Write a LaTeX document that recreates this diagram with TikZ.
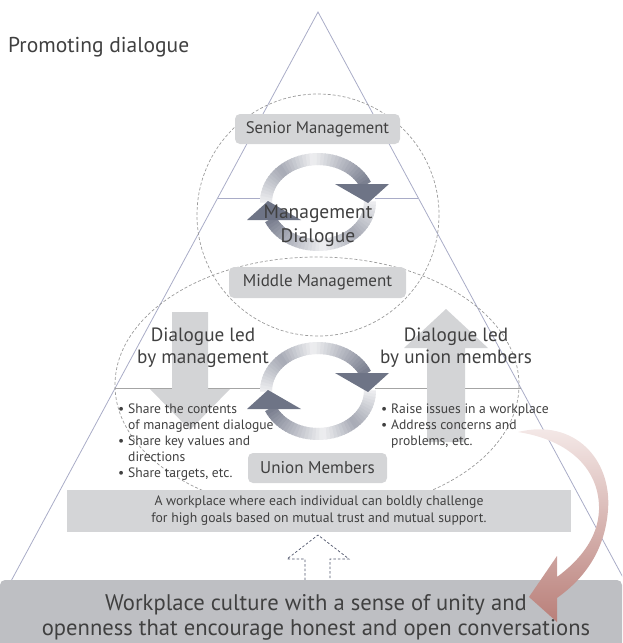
\documentclass[tikz,border=0pt]{standalone}
\usepackage{fontspec}
\setmainfont{PT Sans}
\definecolor{txt}{HTML}{404040}
\definecolor{boxg}{HTML}{D4D5D7}
\definecolor{botg}{HTML}{BEBFC3}
\definecolor{arrg}{HTML}{D3D4D6}
\definecolor{tric}{HTML}{A9ACC7}
\definecolor{sepc}{HTML}{A4A4A4}
\definecolor{dshc}{HTML}{9B9B9B}
\definecolor{cyc}{HTML}{5E6478}
\definecolor{redd}{HTML}{B97F79}
\definecolor{redl}{HTML}{F7EEED}
\definecolor{upd}{HTML}{4F556B}
\newcommand{\fsz}[1]{\fontsize{#1}{#1}\selectfont}
\newcommand{\mycycle}[2]{%
  \fill[white] (#1,#2) ellipse [x radius=57, y radius=47];
  \foreach \k in {0,...,39}{%
    \pgfmathsetmacro{\pa}{181-156*\k/40}%
    \pgfmathsetmacro{\pb}{181-156*(\k+1.4)/40}%
    \pgfmathsetmacro{\tt}{\k/39}%
    \pgfmathsetmacro{\ff}{\tt<0.3 ? 12+\tt/0.3*43 : (\tt<0.55 ? 55-(\tt-0.3)/0.25*45 : 10+(\tt-0.55)/0.45*72)}%
    \draw[line width=12pt, color=cyc!\ff!white] ({#1+52*cos(\pa)},{#2-43*sin(\pa)}) arc[start angle=-\pa, end angle=-\pb, x radius=52, y radius=43];
    \pgfmathsetmacro{\qa}{1-156*\k/40}%
    \pgfmathsetmacro{\qb}{1-156*(\k+1.4)/40}%
    \draw[line width=12pt, color=cyc!\ff!white] ({#1+52*cos(\qa)},{#2-43*sin(\qa)}) arc[start angle=-\qa, end angle=-\qb, x radius=52, y radius=43];
  }
  \fill[cyc!90] (#1+17,#2-18) -- (#1+71,#2-18) -- (#1+50,#2+1) -- cycle;
  \fill[cyc!90] (#1-17,#2+18) -- (#1-71,#2+18) -- (#1-50,#2-1) -- cycle;
}
\begin{document}
\begin{tikzpicture}[x=1pt,y=-1pt,
  trl/.style={draw=tric,line width=0.8pt},
  dshl/.style={draw=dshc,line width=0.7pt,dash pattern=on 3pt off 2pt},
  gbox/.style={fill=boxg,rounded corners=5pt,inner sep=0pt,text=txt},
  lbl/.style={text=txt,inner sep=0pt,align=center},
  bul/.style={text=txt,inner sep=0pt,anchor=base west,font=\fsz{13.6}}]
\useasboundingbox (0,0) rectangle (622,643);
\begin{scope}
\clip (0,0) rectangle (622,643);
% triangle
\coordinate (apex) at (318,12);
\coordinate (bl) at (10,583);
\coordinate (br) at (626,583);
\coordinate (s1l) at (218,198);
\coordinate (s1r) at (418,198);
\coordinate (s2l) at (115,388);
\coordinate (s2r) at (521,388);
\draw[trl] (bl) -- (apex) -- (br);
\draw[trl] (s1l) -- (s1r);
\draw[draw=sepc,line width=0.8pt] (s2l) -- (s2r);
% big gray arrows
\fill[arrg] (172,312) -- (208,312) -- (208,389) -- (230,389) -- (190,430) -- (150,389) -- (172,389) -- cycle;
\fill[arrg] (427,442) -- (465,442) -- (465,348) -- (488,348) -- (446,309) -- (404,348) -- (427,348) -- cycle;
% dashed circles
\draw[dshl] (318,215) circle [radius=121];
\draw[dshl] (317,385) ellipse [x radius=202, y radius=128];
% boxes
\node[gbox,minimum width=165,minimum height=30,font=\fsz{16.7}] (senior) at (317.5,129) {Senior Management};
\node[gbox,minimum width=177,minimum height=31,font=\fsz{17}] (middle) at (317.5,282.5) {Middle Management};
\node[gbox,minimum width=139,minimum height=30,font=\fsz{17}] (union) at (317.5,468) {Union Members};
\node[fill=boxg,minimum width=504,minimum height=42,inner sep=0pt] (wpbox) at (319,511) {};
\node[lbl,font=\fsz{13.7},text=txt] (wptext) at (319,511) {A workplace where each individual can boldly challenge\\[3.3pt]for high goals based on mutual trust and mutual support.};
% cycles
\mycycle{318}{202}
\mycycle{318}{391}
% texts
\node[lbl,anchor=west,font=\fsz{21.5}] (title) at (8,47) {Promoting dialogue};
\node[lbl,font=\fsz{19.5}] (mgmt) at (318,226) {Management\\[4.5pt]Dialogue};
\node[lbl,font=\fsz{19.2}] (ledm) at (203,348) {Dialogue led\\[2.8pt]by management};
\node[lbl,font=\fsz{19.2}] (ledu) at (456,348) {Dialogue led\\[2.8pt]by union members};
\node[bul] (b1) at (118,413) {\textbullet};
\node[bul] (b1t) at (128,413) {Share the contents};
\node[bul] (b1u) at (128,429) {of management dialogue};
\node[bul] (b2) at (118,445) {\textbullet};
\node[bul] (b2t) at (128,445) {Share key values and};
\node[bul] (b2u) at (128,461) {directions};
\node[bul] (b3) at (118,477) {\textbullet};
\node[bul] (b3t) at (128,477) {Share targets, etc.};
\node[bul] (r1) at (381,413) {\textbullet};
\node[bul] (r1t) at (391,413) {Raise issues in a workplace};
\node[bul] (r2) at (381,429) {\textbullet};
\node[bul] (r2t) at (391,429) {Address concerns and};
\node[bul] (r2u) at (391,445) {problems, etc.};
% dashed up arrow
\draw[draw=upd,line width=0.7pt,dash pattern=on 2.5pt off 2pt] (305,580) -- (305,559) -- (287,559) -- (318,535) -- (349,559) -- (330,559) -- (330,580);
% bottom box
\fill[botg,rounded corners=5pt] (0,580) rectangle (622,670);
\node[lbl,font=\fsz{22.6}] (culture) at (316,617) {Workplace culture with a sense of unity and\\[2.6pt]openness that encourage honest and open conversations};
% red arrow
\shade[top color=redl,bottom color=redd] (518,432) .. controls (575,418) and (612,460) .. (608,510) .. controls (605,550) and (585,578) .. (557,598) -- (557,622) -- (529,597) -- (557,556) -- (557,577) .. controls (580,560) and (598,538) .. (599,510) .. controls (600,470) and (570,440) .. (518,432) -- cycle;
\end{scope}
\end{tikzpicture}
\end{document}
